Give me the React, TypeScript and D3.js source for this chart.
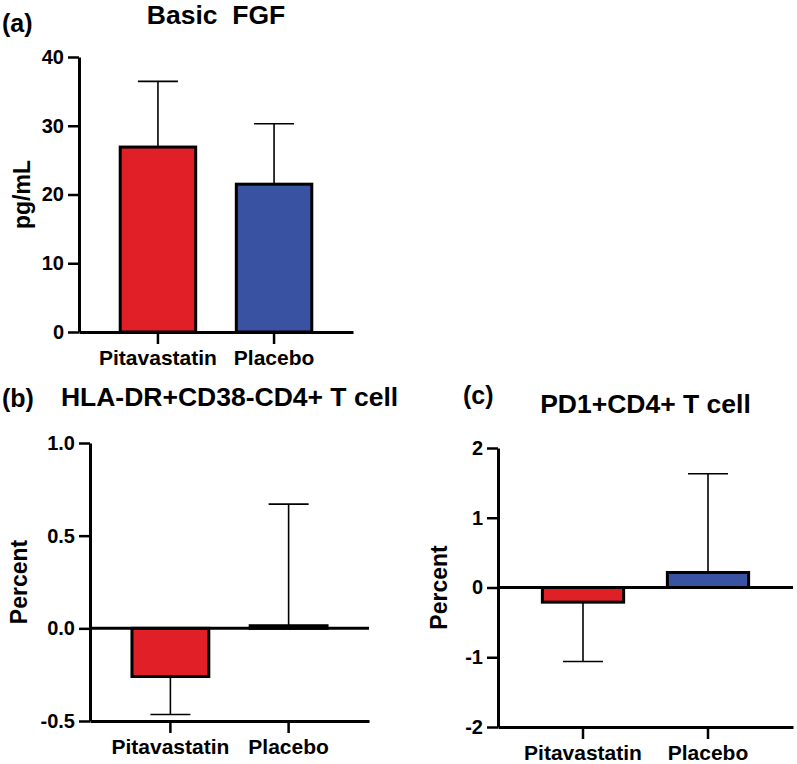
import { useRef, useEffect } from "react";
import * as d3 from "d3";

const groups = ["Pitavastatin", "Placebo"];
const colors = ["#E02026", "#3A52A2"];

// panel (a) Basic FGF, pg/mL
const fgfMean = [26.9, 21.5];
const fgfSd = [9.55, 8.8];
const fgfTicks = [0, 10, 20, 30, 40];

// panel (b) HLA-DR+CD38-CD4+ T cell, percent change
const hlaMean = [-0.26, 0.014];
const hlaSd = [0.205, 0.656];
const hlaTicks = [-0.5, 0.0, 0.5, 1.0];

// panel (c) PD1+CD4+ T cell, percent change
const pd1Mean = [-0.21, 0.215];
const pd1Sd = [0.85, 1.415];
const pd1Ticks = [-2, -1, 0, 1, 2];

interface Panel {
  letter: string;
  letterX: number;
  letterY: number;
  title: string;
  titleY: number;
  yLabel: string;
  yLabelX: number;
  mean: number[];
  sd: number[];
  ticks: number[];
  fmt: (v: number) => string;
  x0: number;
  x1: number;
  yTop: number;
  yBottom: number;
}

// GraphPad-style labels use a plain hyphen for negatives
const hyphen = (f: (v: number) => string) => (v: number) => f(v).replace("\u2212", "-");

const panels: Panel[] = [
  {
    letter: "(a)", letterX: 2, letterY: 32,
    title: "Basic\u00a0 FGF", titleY: 24,
    yLabel: "pg/mL", yLabelX: 30,
    mean: fgfMean, sd: fgfSd, ticks: fgfTicks, fmt: hyphen(d3.format("d")),
    x0: 79, x1: 353, yTop: 57, yBottom: 332,
  },
  {
    letter: "(b)", letterX: 2, letterY: 407,
    title: "HLA-DR+CD38-CD4+ T cell", titleY: 406,
    yLabel: "Percent", yLabelX: 27,
    mean: hlaMean, sd: hlaSd, ticks: hlaTicks, fmt: hyphen(d3.format(".1f")),
    x0: 90, x1: 369, yTop: 443, yBottom: 721,
  },
  {
    letter: "(c)", letterX: 463, letterY: 404,
    title: "PD1+CD4+ T cell", titleY: 413,
    yLabel: "Percent", yLabelX: 447,
    mean: pd1Mean, sd: pd1Sd, ticks: pd1Ticks, fmt: hyphen(d3.format("d")),
    x0: 498, x1: 793, yTop: 448, yBottom: 727,
  },
];

const FONT = "'Liberation Sans', Arial, Helvetica, sans-serif";

export default function App() {
  const ref = useRef<SVGSVGElement>(null);

  useEffect(() => {
    if (!ref.current) return;
    const svg = d3.select(ref.current);
    svg.selectAll("*").remove();

    panels.forEach((p) => {
      const g = svg.append("g");
      const lo = p.ticks[0];
      const hi = p.ticks[p.ticks.length - 1];

      const x = d3
        .scaleBand<string>()
        .domain(groups)
        .range([p.x0, p.x1])
        .paddingInner(0.35)
        .paddingOuter(0.355);
      const y = d3.scaleLinear().domain([lo, hi]).range([p.yBottom, p.yTop]);

      // error bars (one-sided, away from zero)
      groups.forEach((grp, i) => {
        const m = p.mean[i];
        const end = m >= 0 ? m + p.sd[i] : m - p.sd[i];
        const cx = x(grp)! + x.bandwidth() / 2;
        g.append("line")
          .attr("x1", cx).attr("x2", cx)
          .attr("y1", y(m)).attr("y2", y(end))
          .attr("stroke", "#000").attr("stroke-width", 1.6);
        g.append("line")
          .attr("x1", cx - 20).attr("x2", cx + 20)
          .attr("y1", y(end)).attr("y2", y(end))
          .attr("stroke", "#000").attr("stroke-width", 1.6);
      });

      // bars
      g.selectAll("rect.bar")
        .data(groups)
        .join("rect")
        .attr("class", "bar")
        .attr("x", (d) => x(d)!)
        .attr("width", x.bandwidth())
        .attr("y", (_, i) => Math.min(y(p.mean[i]), y(0)))
        .attr("height", (_, i) => Math.abs(y(p.mean[i]) - y(0)))
        .attr("fill", (_, i) => colors[i])
        .attr("stroke", "#000")
        .attr("stroke-width", 3);

      // zero line
      if (lo < 0) {
        g.append("line")
          .attr("x1", p.x0).attr("x2", p.x1)
          .attr("y1", y(0)).attr("y2", y(0))
          .attr("stroke", "#000").attr("stroke-width", 3);
      }

      // y axis
      const ya = g
        .append("g")
        .attr("transform", `translate(${p.x0},0)`)
        .call(
          d3.axisLeft(y).tickValues(p.ticks).tickFormat((v) => p.fmt(v as number))
            .tickSize(11).tickSizeOuter(0).tickPadding(4)
        );
      ya.select(".domain").attr("stroke-width", 3);
      ya.selectAll(".tick line").attr("stroke-width", 2.5);
      ya.selectAll(".tick text")
        .attr("font-family", FONT)
        .attr("font-weight", "bold")
        .attr("font-size", 20)
        .attr("fill", "#000");

      // x axis
      const xa = g
        .append("g")
        .attr("transform", `translate(0,${p.yBottom})`)
        .call(d3.axisBottom(x).tickSize(12).tickSizeOuter(0).tickPadding(6));
      xa.select(".domain").attr("stroke-width", 3);
      xa.selectAll(".tick line").attr("stroke-width", 2.5);
      xa.selectAll(".tick text")
        .attr("font-family", FONT)
        .attr("font-weight", "bold")
        .attr("font-size", 21)
        .attr("fill", "#000");

      // y label
      g.append("text")
        .attr("transform", `translate(${p.yLabelX},${(p.yTop + p.yBottom) / 2}) rotate(-90)`)
        .attr("text-anchor", "middle")
        .attr("font-family", FONT)
        .attr("font-weight", "bold")
        .attr("font-size", 23)
        .text(p.yLabel);

      // title
      g.append("text")
        .attr("x", (p.x0 + p.x1) / 2)
        .attr("y", p.titleY)
        .attr("text-anchor", "middle")
        .attr("font-family", FONT)
        .attr("font-weight", "bold")
        .attr("font-size", 26.5)
        .text(p.title);

      // panel letter
      g.append("text")
        .attr("x", p.letterX)
        .attr("y", p.letterY)
        .attr("font-family", FONT)
        .attr("font-weight", "bold")
        .attr("font-size", 25)
        .text(p.letter);
    });
  }, []);

  return (
    <svg
      ref={ref}
      width={797}
      height={764}
      style={{ position: "absolute", left: 0, top: 0, background: "#fff" }}
    />
  );
}
